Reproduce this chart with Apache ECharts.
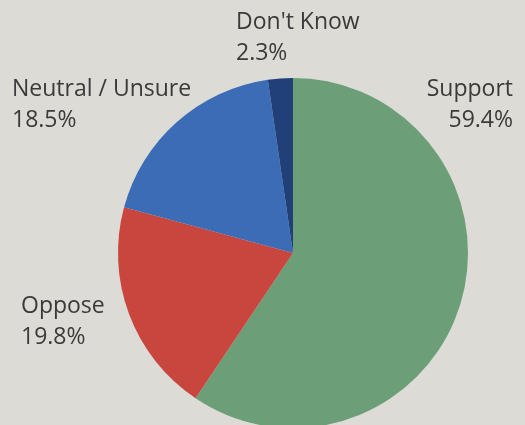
<!DOCTYPE html>
<html>
<head>
<meta charset="utf-8">
<script src="https://cdn.jsdelivr.net/npm/echarts@6/dist/echarts.min.js"></script>
<style>
  html, body { margin: 0; padding: 0; background: #dcdbd6; }
  #chart { width: 525px; height: 425px; }
</style>
</head>
<body>
<div id="chart"></div>
<script>
// Survey responses, clockwise from 12 o'clock
const categories = ['Support', 'Oppose', 'Neutral / Unsure', "Don't Know"];
const shares = [59.4, 19.8, 18.5, 2.3];
const sliceColors = ['#6c9f78', '#c9463f', '#3b6cb5', '#213f78'];

// Label anchor points (x, y, align) for each slice
const labelSpots = [
  { x: 513, y: 74, align: 'right' },
  { x: 21, y: 291, align: 'left' },
  { x: 12, y: 74, align: 'left' },
  { x: 236, y: 7, align: 'left' }
];

const chart = echarts.init(document.getElementById('chart'), null, { renderer: 'canvas' });

chart.setOption({
  backgroundColor: '#dcdbd6',
  animation: false,
  series: [{
    type: 'pie',
    center: [293, 253],
    radius: [0, 175],
    startAngle: 90,
    clockwise: true,
    silent: true,
    data: categories.map((name, i) => ({
      name,
      value: shares[i],
      itemStyle: { color: sliceColors[i] }
    })),
    label: {
      show: true,
      formatter: p => p.name + '\n' + p.value.toFixed(1) + '%',
      fontFamily: 'Open Sans',
      fontSize: 23,
      lineHeight: 31,
      color: '#3a3a3a',
      overflow: 'none'
    },
    labelLine: { show: false },
    labelLayout: params => {
      const s = labelSpots[params.dataIndex];
      return { x: s.x, y: s.y, align: s.align, verticalAlign: 'top', hideOverlap: false };
    }
  }]
});
</script>
</body>
</html>
